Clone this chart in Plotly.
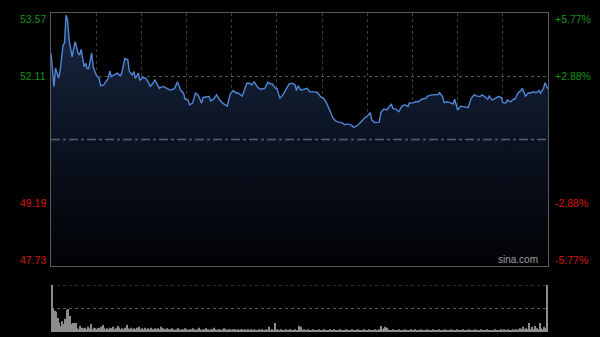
import plotly.graph_objects as go

# ---- data ----
minutes = [0,2,3,5,6,8,9,10,11,12,
           14,16,18,19,20,22,23,24,25,27,
           28,30,31,32,33,35,38,39,40,42,
           44,46,47,49,51,52,54,55,56,58,
           59,61,63,65,66,69,70,72,73,75,
           77,79,81,82,84,86,88,89,91,92,
           94,96,98,100,101,104,105,106,108,110,
           112,114,116,117,119,121,123,124,127,129,
           130,132,133,135,137,139,142,144,146,147,
           149,150,152,154,156,158,160,162,163,164,
           166,168,170,172,175,177,179,181,183,185,
           187,189,191,193,195,197,199,201,204,206,
           208,210,212,213,215,218,219,221,223,226,
           227,229,231,233,235,237,238,240,242,244,
           246,249,250,253,255,257,258,260,261,263,
           265,267,268,270,272,274,276,277,279,281,
           283,285,286,288,290,291,293,295,297,299,
           300,302,303,305,307,308,310,312,313,315,
           317,318,320,322,324,325,327,328,330]
prices = [52.64,51.87,52.30,52.07,52.22,52.83,52.88,53.52,53.41,52.95,
          52.56,52.91,52.64,52.60,52.73,52.33,52.41,52.29,52.29,52.65,
          52.33,52.14,52.10,52.06,51.89,51.91,52.06,52.23,52.10,52.14,
          52.18,52.12,52.18,52.52,52.49,52.22,52.14,52.22,52.06,52.18,
          52.02,52.08,52.06,51.95,51.87,52.02,51.95,51.83,51.86,51.87,
          51.83,51.79,51.81,51.83,51.98,51.79,51.72,51.58,51.56,51.45,
          51.49,51.73,51.65,51.49,51.62,51.64,51.64,51.54,51.58,51.68,
          51.56,51.49,51.45,51.42,51.70,51.78,51.72,51.73,51.65,51.87,
          51.95,51.95,51.91,51.98,51.86,51.81,51.83,51.97,51.93,51.93,
          51.83,51.83,51.60,51.68,51.79,51.93,51.95,51.91,51.78,51.89,
          51.79,51.81,51.83,51.75,51.75,51.73,51.64,51.60,51.49,51.33,
          51.16,51.08,51.05,51.04,50.99,51.01,50.99,50.93,50.99,51.06,
          51.14,51.19,51.27,51.10,51.04,51.05,51.27,51.35,51.33,51.47,
          51.37,51.35,51.29,51.42,51.45,51.41,51.50,51.49,51.52,51.52,
          51.58,51.60,51.65,51.68,51.69,51.69,51.73,51.64,51.50,51.52,
          51.50,51.47,51.58,51.33,51.42,51.41,51.41,51.39,51.60,51.68,
          51.65,51.64,51.68,51.64,51.58,51.65,51.56,51.60,51.64,51.62,
          51.50,51.49,51.56,51.52,51.58,51.58,51.72,51.78,51.83,51.65,
          51.73,51.72,51.75,51.73,51.78,51.72,51.83,51.96,51.81]

volume = [100,50,45,43,30,19,13,23,17,28,
          47,49,34,17,19,19,19,8,6,13,
          9,8,9,6,11,8,17,6,9,8,
          6,9,8,11,15,9,6,8,6,9,
          8,11,6,8,13,9,6,8,6,9,
          15,8,6,9,6,8,6,9,11,6,
          8,6,9,6,8,6,9,6,6,8,
          6,8,6,11,8,6,6,8,6,6,
          8,6,4,6,8,6,4,6,6,8,
          6,4,6,6,8,6,4,6,9,6,
          4,6,6,8,6,4,6,6,9,6,
          4,6,6,4,6,8,6,4,6,6,
          4,6,6,4,6,4,6,6,4,6,
          4,6,4,6,4,6,4,4,6,4,
          6,4,4,6,4,11,4,6,4,19,
          6,4,4,6,4,4,6,4,4,6,
          4,4,6,4,4,13,11,4,6,4,
          4,6,4,4,6,4,4,4,6,4,
          4,6,4,4,4,6,4,4,6,4,
          4,4,6,4,4,4,6,4,4,4,
          6,4,4,4,6,4,4,4,6,4,
          4,6,4,4,4,6,4,4,6,13,
          6,8,11,9,6,4,4,6,4,4,
          4,6,4,4,4,6,4,4,4,6,
          4,4,6,4,4,4,6,4,4,4,
          6,4,4,4,6,4,4,4,6,4,
          4,4,6,4,4,4,6,4,4,4,
          6,4,4,4,6,4,4,4,6,4,
          4,4,6,4,4,4,6,4,4,4,
          6,4,4,4,4,6,4,4,4,6,
          4,6,4,4,6,4,4,6,4,6,
          4,6,8,6,11,6,8,6,19,6,
          11,6,13,8,6,19,8,6,11,8,
          100]
vol_minutes = list(range(len(volume)))

prev_close = 50.65
price_ticks = [53.57, 52.11, 49.19, 47.73]
pct_ticks = ["+5.77%", "+2.88%", "-2.88%", "-5.77%"]
time_grid = [30, 60, 90, 120, 150, 180, 210, 240, 270, 300]
vol_grid = [50, 100]

# ---- figure ----
W, H = 600, 337
FONT = "Arial, Liberation Sans, sans-serif"
GREEN = "#149414"
RED = "#d2190a"

fig = go.Figure()

fig.add_trace(go.Scatter(
    x=minutes, y=prices, mode="lines",
    line=dict(color="#4f86d6", width=1.4),
    fill="tozeroy",
    fillgradient=dict(type="vertical", start=price_ticks[-1], stop=price_ticks[0],
                      colorscale=[[0, "#010204"], [0.5, "#0b1322"], [1, "#1a2843"]]),
    hoverinfo="skip", xaxis="x", yaxis="y"))

fig.add_trace(go.Bar(
    x=vol_minutes, y=volume, marker=dict(color="#8c8c8c", line=dict(width=0)),
    width=0.7, xaxis="x2", yaxis="y2", hoverinfo="skip"))

x0, x1 = 51 / W, 548 / W
main_dom = [(H - 266) / H, (H - 13) / H]
vol_dom = [(H - 332) / H, (H - 285) / H]

fig.update_layout(
    width=W, height=H,
    margin=dict(l=0, r=0, t=0, b=0),
    paper_bgcolor="#000000", plot_bgcolor="#000000",
    showlegend=False,
    xaxis=dict(domain=[x0, x1], range=[0, 330], showticklabels=False,
               tickvals=time_grid, showgrid=True, gridcolor="#3e3e3e", griddash="dot",
               gridwidth=1, zeroline=False, showline=True, linecolor="#5a5a5a",
               linewidth=1, mirror=True, ticks=""),
    yaxis=dict(domain=main_dom, range=[price_ticks[-1], price_ticks[0]],
               showticklabels=False, tickvals=[price_ticks[1], price_ticks[2]],
               showgrid=True, gridcolor="#555555", griddash="dot", zeroline=False,
               showline=True, linecolor="#5a5a5a", linewidth=1, mirror=True, ticks=""),
    xaxis2=dict(domain=[x0, x1], range=[-0.4, 330.4], showticklabels=False,
                showgrid=False, zeroline=False, showline=False, anchor="y2"),
    yaxis2=dict(domain=vol_dom, range=[0, 100], showticklabels=False,
                showgrid=False, zeroline=False, showline=False, anchor="x2"),
    bargap=0.3,
)

# previous close line
fig.add_shape(type="line", xref="x", yref="y", x0=0, x1=330, y0=prev_close, y1=prev_close,
              line=dict(color="#56606c", width=1.5, dash="dashdot"), layer="above")
# volume grid lines
for v in vol_grid:
    fig.add_shape(type="line", xref="x2", yref="y2", x0=-0.4, x1=330.4, y0=v, y1=v,
                  line=dict(color="#5a5a5a", width=1, dash="dot"), layer="below")

# axis labels
for i, (p, pc) in enumerate(zip(price_ticks, pct_ticks)):
    col = GREEN if p > prev_close else RED
    if i == 0:
        ya, ys = "top", 2
    elif i == len(price_ticks) - 1:
        ya, ys = "bottom", -2
    else:
        ya, ys = "middle", 0
    fig.add_annotation(x=48 / W, xref="paper", y=p, yref="y", text=f"{p:.2f}",
                       showarrow=False, xanchor="right", yanchor=ya, yshift=ys,
                       font=dict(family=FONT, size=10.5, color=col))
    fig.add_annotation(x=552.5 / W, xref="paper", y=p, yref="y", text=pc,
                       showarrow=False, xanchor="left", yanchor=ya, yshift=ys,
                       font=dict(family=FONT, size=10.5, color=col))

fig.add_annotation(x=518 / W, xref="paper", y=price_ticks[-1], yref="y", text="sina.com",
                   showarrow=False, xanchor="center", yanchor="bottom", yshift=-1,
                   font=dict(family=FONT, size=10, color="#a0a0a0"))

fig.write_html("out.html")
